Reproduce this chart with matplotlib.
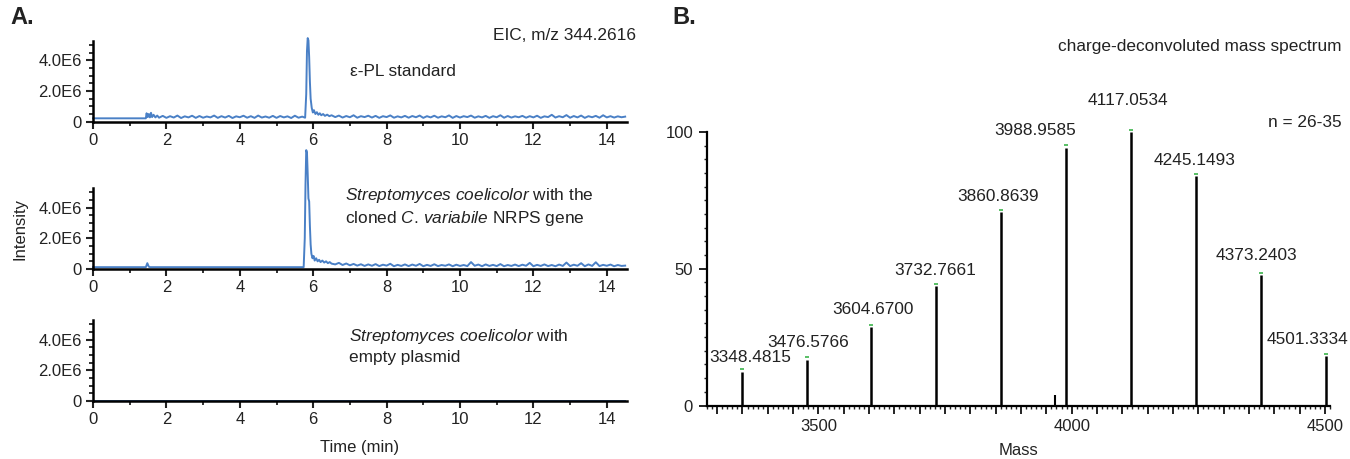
import matplotlib
matplotlib.use("Agg")
import matplotlib.pyplot as plt
from matplotlib.ticker import FixedLocator, MultipleLocator, FuncFormatter

plt.rcParams['font.family'] = ['Liberation Sans', 'DejaVu Sans']
plt.rcParams['mathtext.fontset'] = 'custom'
plt.rcParams['mathtext.rm'] = 'Liberation Sans'
plt.rcParams['mathtext.it'] = 'Liberation Sans:italic'

# ---------------- data: panel A (EIC traces, intensity in units of 1E6) ----------------
tail_time = [6.6, 6.7, 6.8, 6.9, 7.0, 7.1, 7.2, 7.3, 7.4, 7.5,
             7.6, 7.7, 7.8, 7.9, 8.0, 8.1, 8.2, 8.3, 8.4, 8.5,
             8.6, 8.7, 8.8, 8.9, 9.0, 9.1, 9.2, 9.3, 9.4, 9.5,
             9.6, 9.7, 9.8, 9.9, 10.0, 10.1, 10.2, 10.3, 10.4, 10.5,
             10.6, 10.7, 10.8, 10.9, 11.0, 11.1, 11.2, 11.3, 11.4, 11.5,
             11.6, 11.7, 11.8, 11.9, 12.0, 12.1, 12.2, 12.3, 12.4, 12.5,
             12.6, 12.7, 12.8, 12.9, 13.0, 13.1, 13.2, 13.3, 13.4, 13.5,
             13.6, 13.7, 13.8, 13.9, 14.0, 14.1, 14.2, 14.3, 14.4, 14.5]

std_time = [0.00, 1.44, 1.46, 1.49, 1.52, 1.55, 1.58, 1.61, 1.65, 1.70, 1.75, 1.80,
            1.9, 2.0, 2.1, 2.2, 2.3, 2.4, 2.5, 2.6, 2.7, 2.8,
            2.9, 3.0, 3.1, 3.2, 3.3, 3.4, 3.5, 3.6, 3.7, 3.8,
            3.9, 4.0, 4.1, 4.2, 4.3, 4.4, 4.5, 4.6, 4.7, 4.8,
            4.9, 5.0, 5.1, 5.2, 5.3, 5.4, 5.5, 5.6, 5.7,
            5.78, 5.81, 5.83, 5.85, 5.87, 5.89, 5.91, 5.93, 5.96, 5.99,
            6.02, 6.06, 6.10, 6.14, 6.18, 6.22, 6.27, 6.32, 6.38, 6.44, 6.5] + tail_time
std_int = [0.22, 0.22, 0.55, 0.30, 0.50, 0.28, 0.58, 0.30, 0.45, 0.28, 0.40, 0.26,
           0.38, 0.25, 0.36, 0.27, 0.40, 0.24, 0.35, 0.28, 0.39, 0.25,
           0.37, 0.26, 0.34, 0.28, 0.40, 0.25, 0.36, 0.27, 0.38, 0.24,
           0.35, 0.29, 0.39, 0.26, 0.36, 0.25, 0.40, 0.27, 0.34, 0.26,
           0.38, 0.25, 0.37, 0.28, 0.35, 0.24, 0.39, 0.26, 0.33,
           0.26, 1.8, 4.6, 5.45, 5.3, 4.2, 2.6, 1.5, 0.9, 0.6,
           0.75, 0.5, 0.62, 0.45, 0.55, 0.42, 0.5, 0.38, 0.46, 0.36, 0.42,
           0.30, 0.40, 0.27, 0.37, 0.29, 0.42, 0.26, 0.36, 0.30, 0.39,
           0.27, 0.38, 0.25, 0.36, 0.30, 0.41, 0.26, 0.35, 0.28, 0.38,
           0.26, 0.37, 0.29, 0.40, 0.25, 0.36, 0.28, 0.39, 0.26, 0.35,
           0.29, 0.41, 0.25, 0.37, 0.27, 0.36, 0.30, 0.40, 0.26, 0.35,
           0.28, 0.38, 0.25, 0.36, 0.29, 0.42, 0.26, 0.37, 0.27, 0.35,
           0.29, 0.38, 0.26, 0.36, 0.28, 0.39, 0.25, 0.35, 0.30, 0.45,
           0.27, 0.36, 0.29, 0.43, 0.26, 0.37, 0.28, 0.40, 0.25, 0.36,
           0.29, 0.38, 0.26, 0.42, 0.28, 0.36, 0.27, 0.35, 0.29, 0.33]

nrps_time = [0.00, 1.44, 1.48, 1.52, 1.56, 5.74, 5.77, 5.79, 5.81, 5.83, 5.85, 5.87,
             5.89, 5.91, 5.93, 5.95, 5.98, 6.01, 6.04, 6.08, 6.12, 6.16, 6.20,
             6.25, 6.30, 6.35, 6.40, 6.45, 6.5] + tail_time
nrps_int = [0.12, 0.12, 0.38, 0.15, 0.12, 0.12, 2.0, 5.5, 7.75, 7.6, 6.2, 4.6,
            4.4, 2.8, 1.6, 1.0, 0.7, 0.85, 0.55, 0.7, 0.5, 0.6, 0.45,
            0.55, 0.42, 0.5, 0.38, 0.45, 0.35,
            0.30, 0.40, 0.26, 0.36, 0.24, 0.33, 0.22, 0.31, 0.20, 0.30,
            0.21, 0.32, 0.19, 0.28, 0.22, 0.34, 0.18, 0.27, 0.20, 0.30,
            0.19, 0.29, 0.21, 0.33, 0.18, 0.27, 0.20, 0.31, 0.19, 0.26,
            0.21, 0.30, 0.18, 0.28, 0.20, 0.26, 0.19, 0.45, 0.21, 0.29,
            0.18, 0.30, 0.20, 0.27, 0.19, 0.32, 0.18, 0.26, 0.20, 0.29,
            0.19, 0.28, 0.21, 0.40, 0.18, 0.27, 0.20, 0.30, 0.19, 0.26,
            0.18, 0.29, 0.20, 0.42, 0.19, 0.28, 0.21, 0.38, 0.18, 0.30,
            0.20, 0.44, 0.19, 0.27, 0.21, 0.29, 0.18, 0.26, 0.20, 0.22]

empty_time = [0.0, 14.5]
empty_int = [0.0, 0.0]

panel_labels = [
    "\u03b5-PL standard",
    "$\\it{Streptomyces}$ $\\it{coelicolor}$ with the\ncloned $\\it{C.\\,variabile}$ NRPS gene",
    "$\\it{Streptomyces}$ $\\it{coelicolor}$ with\nempty plasmid",
]
ytick_vals = [0, 2, 4]
ytick_labels = ["0", "2.0E6", "4.0E6"]
xtick_vals = [0, 2, 4, 6, 8, 10, 12, 14]

# ---------------- data: panel B (deconvoluted spectrum) ----------------
masses = [3348.4815, 3476.5766, 3604.6700, 3732.7661, 3860.8639,
          3988.9585, 4117.0534, 4245.1493, 4373.2403, 4501.3334]
rel_int = [12.4, 16.8, 28.8, 43.7, 70.8, 94.3, 100.0, 83.8, 47.7, 18.2]
minor_mass = [3967.0]
minor_int = [3.7]

# label offsets (points) relative to peak tips (layout only)
label_dx = [6, 1, 1, -1, -2, -22, -2, -1, -3, -13]
label_dy = [10, 12.5, 12.5, 11.5, 11, 12.5, 23, 11.5, 14, 12]

# ---------------- figure ----------------
W, H = 1350, 459
fig = plt.figure(figsize=(W / 100, H / 100), dpi=100)

def fx(px):
    return px / W

def fy(py):
    return 1 - py / H

blue = '#4a80c6'
fs = 12.4
ink = '#222222'

traces = [(std_time, std_int), (nrps_time, nrps_int), (empty_time, empty_int)]
bottoms_px = [121.7, 269, 401]
ax_h_px = 81
left_px, right_px = 93, 627
axesA = []
for (t, y), bpx in zip(traces, bottoms_px):
    ax = fig.add_axes([fx(left_px), fy(bpx), (right_px - left_px) / W, ax_h_px / H])
    ax.plot(t, y, color=blue, lw=1.4, clip_on=False, zorder=2)
    ax.set_xlim(0, 14.55)
    ax.set_ylim(0, 5.28)
    for s in ['top', 'right']:
        ax.spines[s].set_visible(False)
    for s in ['left', 'bottom']:
        ax.spines[s].set_linewidth(1.8)
        ax.spines[s].set_zorder(3)
    ax.xaxis.set_major_locator(FixedLocator(xtick_vals))
    ax.xaxis.set_minor_locator(MultipleLocator(1))
    ax.yaxis.set_major_locator(FixedLocator(ytick_vals))
    ax.set_yticklabels(ytick_labels)
    ax.yaxis.set_minor_locator(MultipleLocator(0.5))
    ax.tick_params(which='major', length=5, width=1.5, labelsize=12, pad=3, color=ink, labelcolor=ink)
    ax.tick_params(which='minor', length=3, width=1.3, color=ink)
    axesA.append(ax)

axesA[1].set_ylabel("Intensity", fontsize=12, color=ink, labelpad=8)
axesA[2].set_xlabel("Time (min)", fontsize=12, color=ink, labelpad=9)

fig.text(fx(636), fy(35), "EIC, m/z 344.2616", ha='right', va='center', fontsize=fs, color=ink)
fig.text(fx(350), fy(72), panel_labels[0], ha='left', va='center', fontsize=fs, color=ink)
fig.text(fx(345), fy(207), panel_labels[1], ha='left', va='center', fontsize=fs, color=ink, linespacing=1.3)
fig.text(fx(349), fy(346), panel_labels[2], ha='left', va='center', fontsize=fs, color=ink, linespacing=1.3)

fig.text(fx(10), fy(18), "A.", ha='left', va='center', fontsize=17, fontweight='bold', color=ink)
fig.text(fx(672), fy(18), "B.", ha='left', va='center', fontsize=17, fontweight='bold', color=ink)

# ---------------- panel B ----------------
axB = fig.add_axes([fx(707), fy(405.5), (1330 - 707) / W, (405.5 - 132) / H])
axB.vlines(masses, 0, rel_int, color='black', lw=1.8, zorder=3)
axB.vlines(minor_mass, 0, minor_int, color='black', lw=1.5, zorder=3)
axB.scatter(masses, [v + 0.8 for v in rel_int], marker='_', s=8, color='#3cb44b', linewidths=1.2, zorder=4, clip_on=False)
for m, v, dx, dy in zip(masses, rel_int, label_dx, label_dy):
    axB.annotate(f"{m:.4f}", xy=(m, v), xytext=(dx, dy), textcoords='offset points',
                 ha='center', va='center', fontsize=fs, color=ink, annotation_clip=False)
axB.set_xlim(3280, 4510)
axB.set_ylim(0, 100)
for s in ['top', 'right']:
    axB.spines[s].set_visible(False)
for s in ['left', 'bottom']:
    axB.spines[s].set_linewidth(1.6)
axB.xaxis.set_major_locator(MultipleLocator(50))
axB.xaxis.set_major_formatter(FuncFormatter(lambda v, p: f"{int(round(v))}" if round(v) % 500 == 0 else ""))
axB.xaxis.set_minor_locator(MultipleLocator(10))
axB.yaxis.set_major_locator(FixedLocator([0, 50, 100]))
axB.yaxis.set_minor_locator(MultipleLocator(5))
axB.tick_params(which='major', length=6, width=1.4, labelsize=12, pad=4, color=ink, labelcolor=ink)
axB.tick_params(which='minor', length=2.5, width=1.0, color=ink)
axB.set_xlabel("Mass", fontsize=12, color=ink, labelpad=6)

fig.text(fx(1342), fy(47), "charge-deconvoluted mass spectrum", ha='right', va='center', fontsize=fs, color=ink)
fig.text(fx(1342), fy(123), "n = 26-35", ha='right', va='center', fontsize=fs, color=ink)

fig.savefig("out.png", dpi=100)
